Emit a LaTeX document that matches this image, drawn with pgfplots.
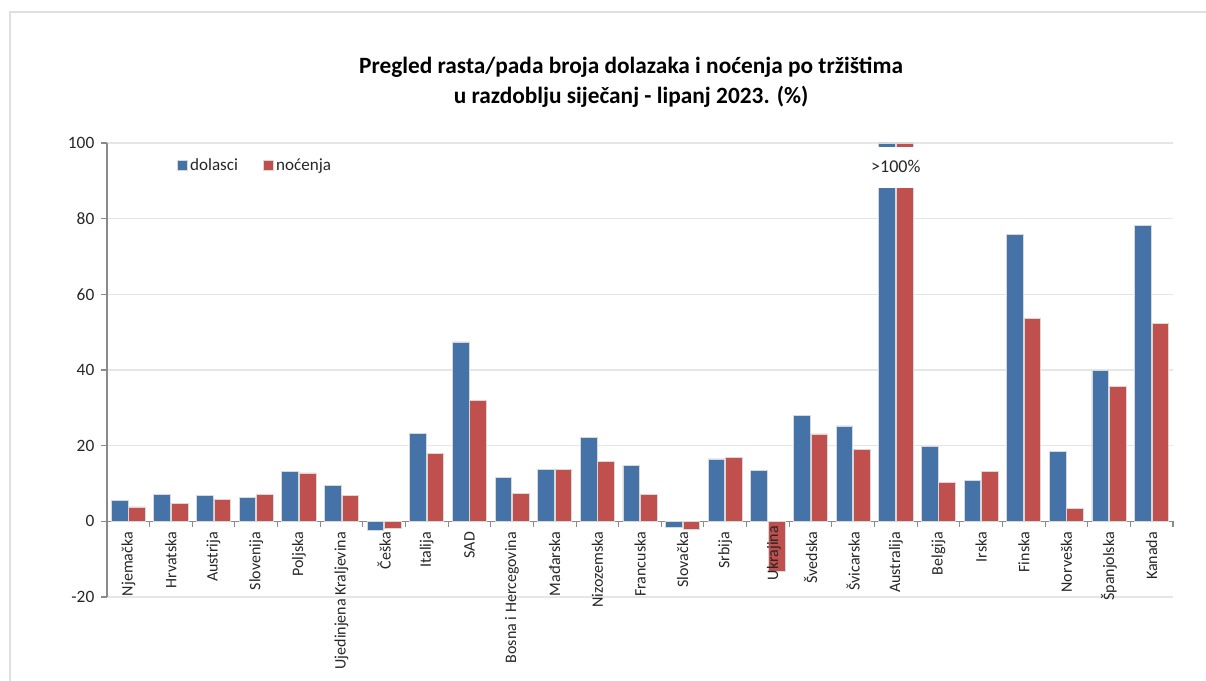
\documentclass[border=0pt]{standalone}
\usepackage{pgfplots}
\pgfplotsset{compat=1.18}
\usepackage{fontspec}
\setmainfont{Carlito}
\definecolor{dolblue}{HTML}{4572A7}
\definecolor{nocred}{HTML}{C0504D}
\definecolor{gridgray}{HTML}{E6E6E6}
\definecolor{axgray}{HTML}{8A8A8A}
\definecolor{baredge}{HTML}{D8D8D8}
\definecolor{txt}{HTML}{262626}

\begin{document}
\begin{tikzpicture}
\draw[gray!25, line width=0.8pt] (-72.75pt,-80pt) -- (-72.75pt,438.75pt) -- (840pt,438.75pt);
\begin{axis}[
  clip=false,
  at={(0pt,0pt)}, anchor=south west,
  scale only axis, width=799.5pt, height=340.5pt,
  ybar=0.6pt, bar width=12.5pt,
  xmin=-0.5, xmax=24.5, ymin=-20, ymax=100,
  axis x line*=middle, axis y line*=left,
  axis line style={draw=axgray, line width=0.8pt},
  tick align=outside,
  ytick={-20,0,20,40,60,80,100},
  major tick length=4.5pt,
  ytick style={draw=axgray, line width=0.8pt},
  ymajorgrids, grid style={draw=gridgray, line width=0.8pt},
  xtick={0,...,24},
  xtick style={draw=none},
  minor xtick={-0.5,0.5,...,24.5},
  minor tick length=4pt,
  minor x tick style={draw=axgray, line width=0.8pt},
  xticklabels={Njemačka,Hrvatska,Austrija,Slovenija,Poljska,Ujedinjena Kraljevina,Češka,Italija,SAD,Bosna i Hercegovina,Mađarska,Nizozemska,Francuska,Slovačka,Srbija,{},Švedska,Švicarska,Australija,Belgija,Irska,Finska,Norveška,Španjolska,Kanada},
  xticklabel style={rotate=90, anchor=east, font=\fontsize{12pt}{14pt}\selectfont, text=txt},
  yticklabel style={font=\fontsize{13pt}{15pt}\selectfont, text=txt, xshift=-1.5pt},
  /pgf/number format/assume math mode=true,
  legend columns=2,
  legend style={at={(rel axis cs:0.062,0.951)}, anchor=west, draw=none, fill=none,
    font=\fontsize{12.8pt}{15pt}\selectfont, text=txt,
    /tikz/every even column/.append style={column sep=17pt}},
  legend image code/.code={\fill[#1] (0pt,-3.5pt) rectangle (7pt,3.5pt);},
]
\addplot[fill=dolblue, draw=baredge, line width=0.6pt] coordinates {
(0,5.5) (1,7.0) (2,6.8) (3,6.4) (4,13.2) (5,9.5) (6,-2.3) (7,23.2) (8,47.4) (9,11.5)
(10,13.8) (11,22.2) (12,14.8) (13,-1.5) (14,16.5) (15,13.4) (16,27.9) (17,25.2) (18,100)
(19,19.9) (20,10.8) (21,75.8) (22,18.5) (23,39.9) (24,78.2)
};
\addlegendentry{dolasci}
\addplot[fill=nocred, draw=baredge, line width=0.6pt] coordinates {
(0,3.8) (1,4.8) (2,5.8) (3,7.0) (4,12.8) (5,6.8) (6,-1.9) (7,17.9) (8,32.0) (9,7.4)
(10,13.8) (11,15.8) (12,7.2) (13,-2.2) (14,16.8) (15,-13.3) (16,23.1) (17,18.9) (18,100)
(19,10.2) (20,13.2) (21,53.7) (22,3.5) (23,35.7) (24,52.2)
};
\addlegendentry{noćenja}
\fill[white] (axis cs:17.5,88) rectangle (axis cs:18.5,99);
\node[font=\fontsize{13.5pt}{15pt}\selectfont, text=txt] at (axis cs:18,93.8) {>100\%};
% label drawn over the negative bar
\node[rotate=90, anchor=east, font=\fontsize{12pt}{14pt}\selectfont, text=txt, yshift=-4.5pt] at (axis cs:15,0) {Ukrajina};
\node[font=\bfseries\fontsize{17.5pt}{20pt}\selectfont, text=black] at (rel axis cs:0.4916,1.167) {Pregled rasta/pada broja dolazaka i noćenja po tržištima};
\node[font=\bfseries\fontsize{17.5pt}{20pt}\selectfont, text=black] at (rel axis cs:0.4916,1.101) {u razdoblju siječanj - lipanj 2023. (\%)};
\end{axis}
\pgfresetboundingbox
\useasboundingbox (-80.25pt,-63pt) rectangle (824.25pt,447.75pt);
\end{tikzpicture}
\end{document}
